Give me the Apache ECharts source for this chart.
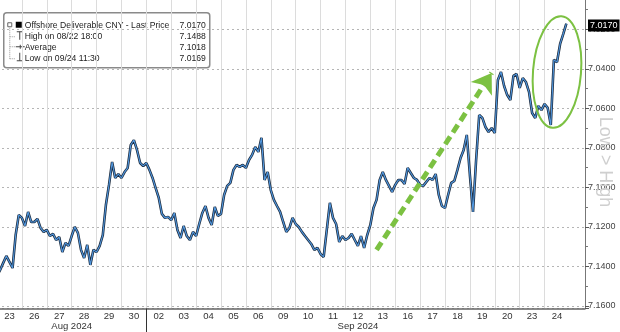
<!DOCTYPE html>
<html>
<head>
<meta charset="utf-8">
<script src="https://cdn.jsdelivr.net/npm/echarts@6/dist/echarts.min.js"></script>
<style>
html,body{margin:0;padding:0;background:#fff;}
#chart{width:620px;height:332px;}
</style>
</head>
<body>
<div id="chart"></div>
<script>
// ---- data ----
const days = ['23','26','27','28','29','30','02','03','04','05','06','09','10','11','12','13','16','17','18','19','20','23','24'];
const months = ['Aug 2024', 'Sep 2024'];
const monthFirstDay = [0, 6];
const slotsPerDay = 8;
const trailingSlots = 6;

// USD/CNH intraday, 8 readings per trading day (Aug 23 .. Aug 30)
const pricesAug = [
  7.1448,7.1418,7.1382,7.1347,7.1377,7.1408,7.1241,7.1139,
  7.1154,7.1195,7.1124,7.1175,7.1175,7.1159,7.1205,7.1225,
  7.1215,7.1246,7.1235,7.1266,7.1251,7.1327,7.1281,7.1296,
  7.1246,7.1200,7.1230,7.1316,7.1357,7.1291,7.1392,7.1316,
  7.1327,7.1296,7.1241,7.1089,7.0987,7.0871,7.0952,7.0932,
  7.0952,7.0922,7.0901,7.0785,7.0760,7.0810,7.0876,7.0891
];
// Sep 02 .. Sep 24
const pricesSep = [
  7.0876,7.0911,7.0952,7.1003,7.1053,7.1134,7.1154,7.1149,
  7.1165,7.1129,7.1215,7.1256,7.1195,7.1246,7.1266,7.1225,
  7.1246,7.1185,7.1129,7.1094,7.1154,7.1190,7.1099,7.1144,
  7.1134,7.1038,7.0992,7.0977,7.0911,7.0886,7.0896,7.0886,
  7.0901,7.0861,7.0835,7.0795,7.0820,7.0749,7.0962,7.0922,
  7.1013,7.1063,7.1094,7.1124,7.1175,7.1225,7.1205,7.1154,
  7.1185,7.1200,7.1225,7.1246,7.1266,7.1286,7.1316,7.1306,
  7.1337,7.1352,7.1215,7.1078,7.1154,7.1185,7.1276,7.1246,
  7.1266,7.1256,7.1235,7.1266,7.1296,7.1246,7.1306,7.1241,
  7.1190,7.1104,7.1063,7.0962,7.0922,7.0962,7.0992,7.1023,
  7.0987,7.0962,7.0962,7.0982,7.0901,7.0927,7.0952,7.0962,
  7.0987,7.0992,7.0972,7.0952,7.0962,7.0932,7.1038,7.1094,
  7.1104,7.1038,7.0977,7.0967,7.0911,7.0851,7.0810,7.0734,
  7.0937,7.1124,7.0861,7.0633,7.0648,7.0694,7.0719,7.0699,
  7.0724,7.0456,7.0415,7.0486,7.0532,7.0557,7.0435,7.0425,
  7.0496,7.0446,7.0466,7.0516,7.0623,7.0648,7.0587,7.0608,
  7.0577,7.0597,7.0684,7.0354,7.0365,7.0273,7.0223,7.0170
];

const yMin = 7.00, yMax = 7.1613, yInterval = 0.02;

const legendRows = [
  ['Offshore Deliverable CNY - Last Price', '7.0170'],
  ['High on 08/22 18:00', '7.1488'],
  ['Average', '7.1018'],
  ['Low on 09/24 11:30', '7.0169']
];
const lastPrice = 7.0170;
const trendArrow = [[122, 7.1316], [159, 7.0420]];

// ---- build ----
const prices = pricesAug.concat(pricesSep);
const daysEnd = days.length * slotsPerDay;
const N = daysEnd + trailingSlots;
const cats = [];
for (let i = 0; i < N; i++) cats.push(i < daysEnd ? days[Math.floor(i / slotsPerDay)] : '');
const monthCenters = monthFirstDay.map((d, m) => {
  const s = d * slotsPerDay;
  const e = (m + 1 < monthFirstDay.length ? monthFirstDay[m + 1] : days.length) * slotsPerDay;
  return Math.round((s + e) / 2);
});
function labelFor(i) {
  let t = (i % slotsPerDay === slotsPerDay / 2 && i < daysEnd) ? days[Math.floor(i / slotsPerDay)] : '';
  const m = monthCenters.indexOf(i);
  if (m >= 0) t = t + '\n' + months[m];
  return t;
}

const FONT = 'Liberation Sans';
const green = '#7cc142';

const legendEls = [
  {type:'rect', shape:{x:0, y:0, width:206, height:55, r:3}, style:{fill:'#fff', stroke:'#8a8a8a', lineWidth:1.5}},
  {type:'rect', shape:{x:4, y:10, width:4, height:4}, style:{fill:'#fff', stroke:'#666', lineWidth:1}},
  {type:'rect', shape:{x:12, y:9, width:6, height:6}, style:{fill:'#000'}},
  {type:'line', shape:{x1:6, y1:15, x2:6, y2:46}, style:{stroke:'#999', lineWidth:1, lineDash:[1,1]}},
  {type:'line', shape:{x1:6, y1:24, x2:12, y2:24}, style:{stroke:'#999', lineWidth:1, lineDash:[1,1]}},
  {type:'line', shape:{x1:6, y1:34, x2:12, y2:34}, style:{stroke:'#999', lineWidth:1, lineDash:[1,1]}},
  {type:'line', shape:{x1:6, y1:46, x2:12, y2:46}, style:{stroke:'#999', lineWidth:1, lineDash:[1,1]}},
  {type:'line', shape:{x1:13, y1:19, x2:19, y2:19}, style:{stroke:'#444', lineWidth:1}},
  {type:'line', shape:{x1:16, y1:19, x2:16, y2:27}, style:{stroke:'#444', lineWidth:1}},
  {type:'line', shape:{x1:12, y1:34, x2:21, y2:34}, style:{stroke:'#444', lineWidth:1}},
  {type:'line', shape:{x1:16.5, y1:32, x2:16.5, y2:36}, style:{stroke:'#444', lineWidth:1}},
  {type:'line', shape:{x1:16, y1:40, x2:16, y2:48}, style:{stroke:'#444', lineWidth:1}},
  {type:'line', shape:{x1:13, y1:48, x2:19, y2:48}, style:{stroke:'#444', lineWidth:1}}
];
legendRows.forEach((r, k) => {
  const y = 12.5 + k * 11;
  legendEls.push({type:'text', x:21, y:y, style:{text:r[0], fill:'#222', font:'8.6px "' + FONT + '"', textVerticalAlign:'middle'}});
  legendEls.push({type:'text', x:202, y:y, style:{text:r[1], fill:'#222', font:'8.6px "' + FONT + '"', textAlign:'right', textVerticalAlign:'middle'}});
});

const chart = echarts.init(document.getElementById('chart'), null, {renderer:'canvas'});
chart.setOption({
  animation: false,
  backgroundColor: '#fff',
  textStyle: {fontFamily: FONT},
  grid: {left: -3, right: 35, top: -10, bottom: 23.5, containLabel: false, outerBoundsMode: 'none'},
  xAxis: {
    type: 'category',
    data: cats,
    boundaryGap: false,
    axisLine: {show: true, lineStyle: {color: '#666', width: 1.5}},
    axisTick: {
      show: true,
      interval: i => i > 0 && monthFirstDay.indexOf(i / slotsPerDay) >= 0,
      length: 24,
      lineStyle: {color: '#333', width: 1}
    },
    axisLabel: {
      interval: i => labelFor(i) !== '',
      formatter: (v, i) => labelFor(i),
      color: '#333', fontSize: 9.5, lineHeight: 10, margin: 3, fontFamily: FONT
    },
    splitLine: {
      show: true,
      interval: i => i % slotsPerDay === 0 && i > 0 && i < daysEnd,
      lineStyle: {color: '#dcdcdc', width: 1}
    }
  },
  yAxis: {
    type: 'value',
    position: 'right',
    inverse: true,
    min: yMin, max: yMax, interval: yInterval,
    axisLine: {show: true, lineStyle: {color: '#777', width: 1}},
    axisTick: {show: true, inside: false, length: 4, lineStyle: {color: '#555'}},
    minorTick: {show: true, splitNumber: 2, length: 3, lineStyle: {color: '#777'}},
    axisLabel: {
      margin: 3, fontSize: 9, color: '#444', fontFamily: FONT,
      formatter: v => Math.abs(v / yInterval - Math.round(v / yInterval)) < 1e-6 ? v.toFixed(4) : ''
    },
    splitLine: {show: true, lineStyle: {color: '#b5b5b5', type: [2, 3], width: 1}}
  },
  series: [
    {
      type: 'line', data: prices, showSymbol: false, symbol: 'none',
      lineStyle: {color: '#1c2a3c', width: 2.6}, z: 3,
      markLine: {
        silent: true, symbol: 'none', animation: false, z: 20,
        lineStyle: {color: 'rgba(0,0,0,0)', width: 1, type: 'solid'},
        label: {
          show: true, position: 'end', distance: 3, offset: [0, -4],
          formatter: lastPrice.toFixed(4),
          backgroundColor: '#000', color: '#fff', fontSize: 9, padding: [2, 2, 1, 2], fontFamily: FONT
        },
        data: [{yAxis: lastPrice}]
      }
    },
    {
      type: 'line', data: prices, showSymbol: false, symbol: 'none',
      lineStyle: {color: '#5198e0', width: 1.1}, z: 4,
      markLine: {
        silent: true, animation: false,
        symbol: ['none', 'arrow'], symbolSize: 19,
        lineStyle: {color: green, width: 5, type: [9, 5]},
        itemStyle: {color: green},
        label: {show: false},
        data: [[{coord: trendArrow[0]}, {coord: trendArrow[1]}]]
      }
    }
  ],
  graphic: [
    {type: 'group', left: 3, top: 12, children: legendEls, z: 100},
    {type: 'ellipse', x: 557, y: 72, rotation: -0.08, shape: {cx: 0, cy: 0, rx: 24, ry: 56},
     style: {fill: 'none', stroke: green, lineWidth: 2}, z: 90},
    {type: 'text', x: 605, y: 162, rotation: -Math.PI / 2,
     style: {text: 'Low > High', fill: '#cfcfcf', font: '18px "' + FONT + '"', textAlign: 'center', textVerticalAlign: 'middle'}, z: 1}
  ]
});
</script>
</body>
</html>
